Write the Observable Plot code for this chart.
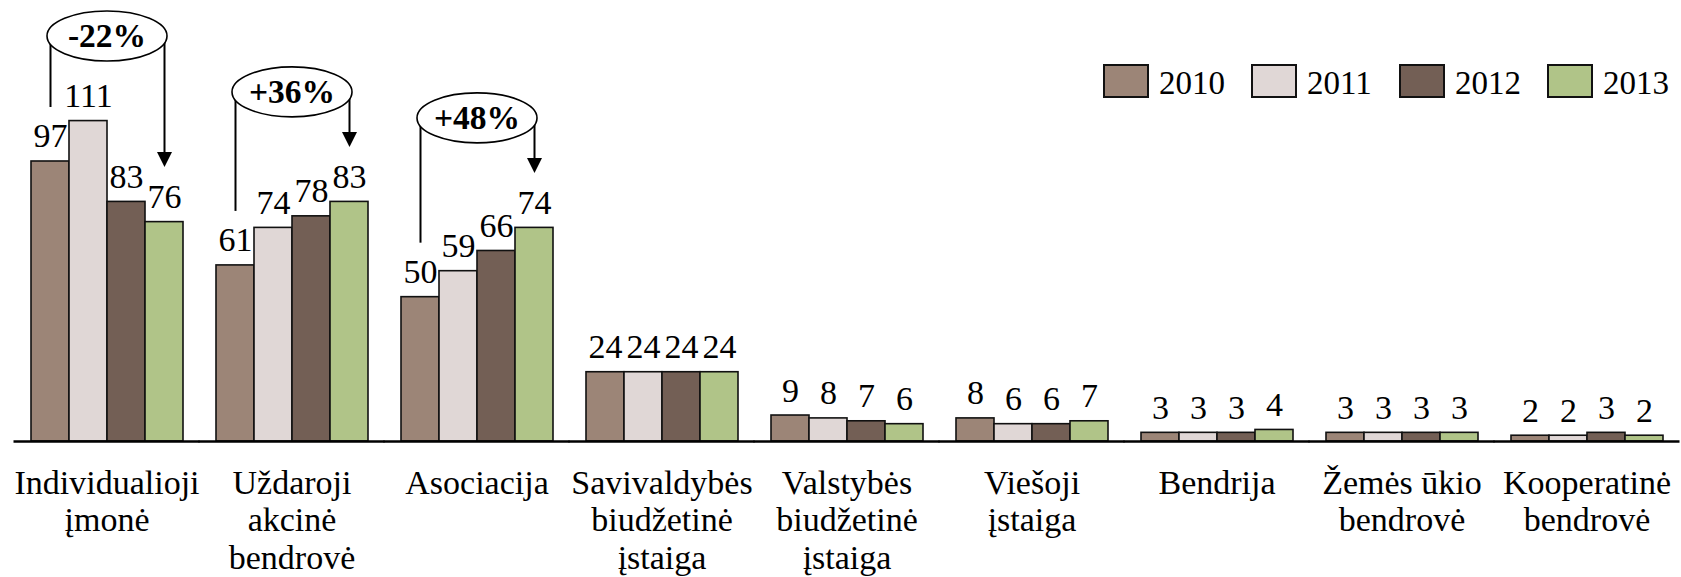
<!DOCTYPE html>
<html>
<head>
<meta charset="utf-8">
<script src="https://cdn.jsdelivr.net/npm/d3@7"></script>
<script src="https://cdn.jsdelivr.net/npm/@observablehq/plot@0.6"></script>
<style>
  html, body { margin: 0; padding: 0; background: #fff; }
  #wrap { position: relative; width: 1681px; height: 577px; font-family: "Liberation Serif", serif; }
  #wrap svg, #wrap svg text { font-family: "Liberation Serif", serif; }
  .lg { position: absolute; top: 64px; height: 34px; display: flex; align-items: center; font-size: 33px; color: #000; }
  .sw { width: 46px; height: 34px; box-sizing: border-box; border: 2px solid #111; margin-right: 10px; }
  .lg span { position: relative; top: 2px; }
</style>
</head>
<body>
<div id="wrap"></div>
<script>
// ---- data ----
const categories = [
  "Individualioji\nįmonė",
  "Uždaroji\nakcinė\nbendrovė",
  "Asociacija",
  "Savivaldybės\nbiudžetinė\nįstaiga",
  "Valstybės\nbiudžetinė\nįstaiga",
  "Viešoji\nįstaiga",
  "Bendrija",
  "Žemės ūkio\nbendrovė",
  "Kooperatinė\nbendrovė"
];
const years = ["2010", "2011", "2012", "2013"];
const values2010 = [97, 61, 50, 24, 9, 8, 3, 3, 2];
const values2011 = [111, 74, 59, 24, 8, 6, 3, 3, 2];
const values2012 = [83, 78, 66, 24, 7, 6, 3, 3, 3];
const values2013 = [76, 83, 74, 24, 6, 7, 4, 3, 2];
const colors = ["#9C8577", "#E0D7D6", "#735F55", "#B0C488"];
const annoCategories = [categories[0], categories[1], categories[2]];
const annoLabels = ["-22%", "+36%", "+48%"];

// ---- layout constants ----
const W = 1681, H = 577, MT = 8, MB = 136, YMAX = 150;
const FONT = "Liberation Serif";
const pxPerUnit = (H - MB - MT) / YMAX;
const u = px => px / pxPerUnit; // pixels -> data units

const series = [values2010, values2011, values2012, values2013];
const data = categories.flatMap((c, i) => years.map((yr, j) => ({category: c, year: yr, value: series[j][i]})));

const anno = annoCategories.map((c, k) => {
  const i = categories.indexOf(c);
  const vals = series.map(s => s[i]);
  return {
    category: c,
    label: annoLabels[k],
    from: series[0][i],
    to: series[3][i],
    level: Math.min(Math.max(...vals) + u(110), YMAX - u(35.5 - MT))
  };
});

const RX = 60, RY = 25, K = 0.5523;
const ellipse = {
  draw(ctx) {
    ctx.moveTo(RX, 0);
    ctx.bezierCurveTo(RX, K * RY, K * RX, RY, 0, RY);
    ctx.bezierCurveTo(-K * RX, RY, -RX, K * RY, -RX, 0);
    ctx.bezierCurveTo(-RX, -K * RY, -K * RX, -RY, 0, -RY);
    ctx.bezierCurveTo(K * RX, -RY, RX, -K * RY, RX, 0);
    ctx.closePath();
  }
};
const arrowHead = {
  draw(ctx) {
    ctx.moveTo(0, 0);
    ctx.lineTo(-7.5, -15);
    ctx.lineTo(7.5, -15);
    ctx.closePath();
  }
};

const chart = Plot.plot({
  width: W,
  height: H,
  marginTop: MT,
  marginBottom: MB,
  marginLeft: 12,
  marginRight: 0,
  style: {fontFamily: FONT, background: "white", color: "black", overflow: "visible"},
  fx: {domain: categories, paddingInner: 0.1613, paddingOuter: 0.075, axis: null},
  x: {domain: years, padding: 0, axis: null},
  y: {domain: [0, YMAX], axis: null},
  color: {domain: years, range: colors},
  marks: [
    Plot.barY(data, {fx: "category", x: "year", y: "value", fill: "year", stroke: "#111", strokeWidth: 1.6, inset: 0}),
    Plot.text(data, {fx: "category", x: "year", y: "value", text: d => String(d.value), lineAnchor: "bottom", dy: -14, fontSize: 34, fontFamily: FONT, fill: "black"}),
    Plot.ruleY(categories, {fx: d => d, y: () => 0, stroke: "black", strokeWidth: 2.5, insetLeft: -15.5, insetRight: -15.5}),
    Plot.text(categories, {fx: d => d, text: d => d, frameAnchor: "bottom", lineAnchor: "top", dy: 25.7, fontSize: 34, lineHeight: 1.103, fontFamily: FONT, fill: "black"}),
    // annotations
    Plot.ruleX(anno, {fx: "category", x: () => "2010", y1: "level", y2: d => d.from + u(54), stroke: "black", strokeWidth: 2}),
    Plot.ruleX(anno, {fx: "category", x: () => "2013", y1: "level", y2: d => d.to + u(62), stroke: "black", strokeWidth: 2}),
    Plot.dot(anno, {fx: "category", x: () => "2013", y: d => d.to + u(55), symbol: arrowHead, fill: "black", stroke: "none"}),
    Plot.dot(anno, {fx: "category", y: "level", symbol: ellipse, fill: "white", stroke: "black", strokeWidth: 1.6}),
    Plot.text(anno, {fx: "category", y: "level", text: "label", fontSize: 33.5, fontWeight: "bold", fontFamily: FONT, fill: "black"})
  ]
});

const wrap = document.getElementById("wrap");
wrap.appendChild(chart);

// legend
years.forEach((yr, j) => {
  const item = document.createElement("div");
  item.className = "lg";
  item.style.left = (1103 + j * 148) + "px";
  const sw = document.createElement("div");
  sw.className = "sw";
  sw.style.background = colors[j];
  const t = document.createElement("span");
  t.textContent = yr;
  item.appendChild(sw);
  item.appendChild(t);
  wrap.appendChild(item);
});
</script>
</body>
</html>
